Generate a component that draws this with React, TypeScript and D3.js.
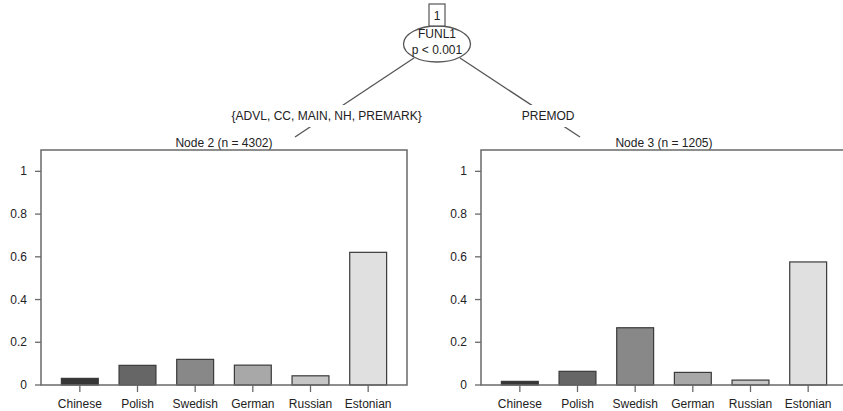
import React from 'react';
import { scaleBand, scaleLinear, format } from 'd3';

const LANGUAGES = ['Chinese', 'Polish', 'Swedish', 'German', 'Russian', 'Estonian'];
const NODE2_VALUES = [0.031, 0.092, 0.12, 0.093, 0.043, 0.621];
const NODE3_VALUES = [0.017, 0.064, 0.268, 0.059, 0.023, 0.576];
const Y_TICKS = [0, 0.2, 0.4, 0.6, 0.8, 1];
const FILLS = ['#363636', '#666666', '#888888', '#a8a8a8', '#c6c6c6', '#e0e0e0'];

const NODE_TITLES = ['Node 2 (n = 4302)', 'Node 3 (n = 1205)'];
const EDGE_LABELS = ['{ADVL, CC, MAIN, NH, PREMARK}', 'PREMOD'];
const SPLIT_VAR = 'FUNL1';
const SPLIT_P = 'p < 0.001';

const W = 843;
const H = 411;
const FONT = '"Liberation Sans", Arial, Helvetica, sans-serif';

// panel geometry
const PANEL_W = 366;
const PANEL_TOP = 150;
const PANEL_BOTTOM = 385;
const PANEL_X = [41, 481];

function Panel({ x0, values, title }: { x0: number; values: number[]; title: string }) {
  const y = scaleLinear().domain([0, 1.1]).range([PANEL_BOTTOM, PANEL_TOP]);
  const x = scaleBand<string>()
    .domain(LANGUAGES)
    .range([x0 + 10, x0 + PANEL_W - 10])
    .paddingInner(0.36)
    .paddingOuter(0.18);
  const fmt = format('~g');
  const x1 = x0 + PANEL_W;

  return (
    <g>
      <text x={x0 + PANEL_W / 2} y={147} textAnchor="middle" fontSize={12} fill="#222">{title}</text>
      {values.map((v, i) => (
        <rect
          key={LANGUAGES[i]}
          x={x(LANGUAGES[i])}
          y={y(v)}
          width={x.bandwidth()}
          height={y(0) - y(v)}
          fill={FILLS[i]}
          stroke="#3a3a3a"
          strokeWidth={1.2}
        />
      ))}
      {/* frame */}
      <path
        d={`M${x0},${PANEL_BOTTOM}V${PANEL_TOP}H${x1}V${PANEL_BOTTOM}Z`}
        fill="none"
        stroke="#6a6a6a"
        strokeWidth={1.5}
      />
      {/* y axis */}
      {Y_TICKS.map(t => (
        <g key={t}>
          <line x1={x0 - 6} x2={x0} y1={y(t)} y2={y(t)} stroke="#6a6a6a" strokeWidth={1.3} />
          <text x={x0 - 14} y={y(t) + 4} textAnchor="end" fontSize={12} fill="#222">{fmt(t)}</text>
        </g>
      ))}
      {/* x axis */}
      {LANGUAGES.map(l => {
        const cx = (x(l) as number) + x.bandwidth() / 2;
        return (
          <g key={l}>
            <line x1={cx} x2={cx} y1={PANEL_BOTTOM} y2={PANEL_BOTTOM + 7} stroke="#6a6a6a" strokeWidth={1.3} />
            <text x={cx} y={408} textAnchor="middle" fontSize={12} fill="#222">{l}</text>
          </g>
        );
      })}
    </g>
  );
}

export default function App() {
  const root = { x: 437, y: 44, rx: 33.5, ry: 18 };
  const edgeTop = 58;
  const edgeBottom = 137;
  const labelY = 116;
  const edges = [
    { x1: root.x - 23, x2: root.x - 142 },
    { x1: root.x + 23, x2: root.x + 143 },
  ];

  return (
    <svg
      width={W}
      height={H}
      style={{ position: 'absolute', left: 0, top: 0, background: '#fff' }}
      fontFamily={FONT}
    >
      {edges.map((e, i) => {
        const t = (labelY - edgeTop) / (edgeBottom - edgeTop);
        const lx = e.x1 + (e.x2 - e.x1) * t;
        const label = EDGE_LABELS[i];
        const tw = label.length * 6.6 + 6;
        return (
          <g key={i}>
            <line x1={e.x1} y1={edgeTop} x2={e.x2} y2={edgeBottom} stroke="#555" strokeWidth={1.3} />
            <rect x={lx - tw / 2} y={labelY - 11} width={tw} height={22} fill="#fff" />
            <text x={lx} y={labelY + 4} textAnchor="middle" fontSize={12} fill="#222">{label}</text>
          </g>
        );
      })}

      <ellipse cx={root.x} cy={root.y} rx={root.rx} ry={root.ry} fill="#fff" stroke="#555" strokeWidth={1.3} />
      <rect x={root.x - 8} y={4} width={16} height={root.y - root.ry - 4} fill="#fff" stroke="#555" strokeWidth={1.2} />
      <text x={root.x} y={20} textAnchor="middle" fontSize={12} fill="#222">1</text>
      <text x={root.x} y={38} textAnchor="middle" fontSize={12} fill="#222">{SPLIT_VAR}</text>
      <text x={root.x} y={54} textAnchor="middle" fontSize={12} fill="#222">{SPLIT_P}</text>

      <Panel x0={PANEL_X[0]} values={NODE2_VALUES} title={NODE_TITLES[0]} />
      <Panel x0={PANEL_X[1]} values={NODE3_VALUES} title={NODE_TITLES[1]} />
    </svg>
  );
}
